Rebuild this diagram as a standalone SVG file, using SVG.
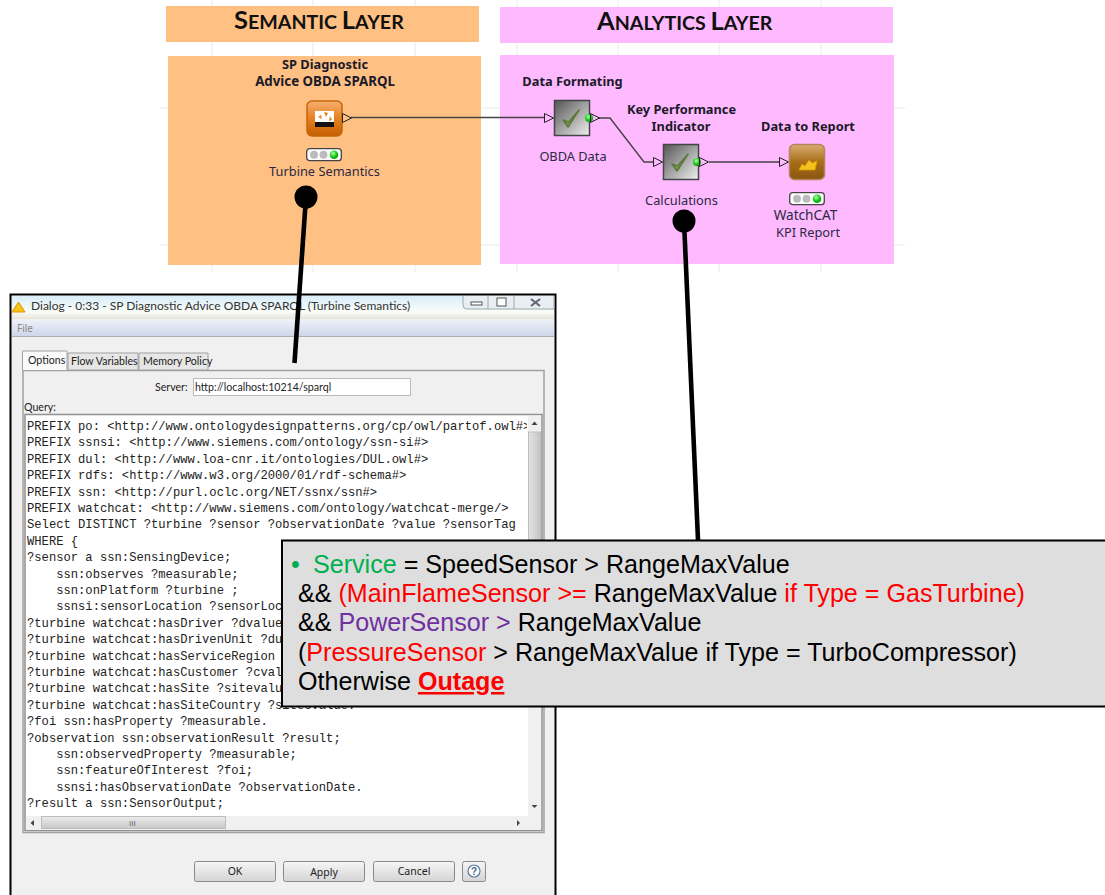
<svg xmlns="http://www.w3.org/2000/svg" width="1105" height="895" viewBox="0 0 1105 895">
<style>
.title{font:bold 19.6px Lato,"Liberation Sans",sans-serif;fill:#111}
.title .cap{font-size:25.5px}
.nb{font:bold 12.8px "Noto Sans","Liberation Sans",sans-serif;fill:#1a1a2a;text-anchor:middle}
.nl{font:12.8px "Noto Sans","Liberation Sans",sans-serif;fill:#2a2a44;text-anchor:middle}
.ui{font:10.6px Lato,"Liberation Sans",sans-serif;fill:#222}
.btn{font:10.5px "Noto Sans","Liberation Sans",sans-serif;fill:#222;text-anchor:middle}
.q{font:12.17px "Liberation Mono","DejaVu Sans Mono",monospace;fill:#222;white-space:pre}
.c{font:25.1px "Liberation Sans",Arial,sans-serif;fill:#000}
.g{fill:#00b050}.r{fill:#f00}.p{fill:#7030a0}
.wire{fill:none;stroke:#444;stroke-width:1.4}
.pin{stroke:#000;stroke-width:4.6;fill:none}
.grid{stroke:#f1f1f1;stroke-width:1.5}
.bt{fill:url(#btn);stroke:#8a8a8a;stroke-width:1}
</style>
<defs>
<linearGradient id="orange" x1="0" y1="0" x2="0" y2="1"><stop offset="0" stop-color="#f6b070"/><stop offset=".5" stop-color="#e58023"/><stop offset="1" stop-color="#c25e00"/></linearGradient>
<linearGradient id="brown" x1="0" y1="0" x2="0" y2="1"><stop offset="0" stop-color="#d8ad70"/><stop offset=".5" stop-color="#a86d18"/><stop offset="1" stop-color="#8a5510"/></linearGradient>
<linearGradient id="grey" x1="0" y1="0" x2="1" y2="1"><stop offset="0" stop-color="#555"/><stop offset="1" stop-color="#f0f0f0"/></linearGradient>
<linearGradient id="tbar" x1="0" y1="0" x2="0" y2="1"><stop offset="0" stop-color="#d9edfb"/><stop offset=".7" stop-color="#fbfdf7"/><stop offset="1" stop-color="#e6e3dc"/></linearGradient>
<linearGradient id="mbar" x1="0" y1="0" x2="0" y2="1"><stop offset="0" stop-color="#eef0f8"/><stop offset="1" stop-color="#cfd6ea"/></linearGradient>
<linearGradient id="btn" x1="0" y1="0" x2="0" y2="1"><stop offset="0" stop-color="#f6f6f6"/><stop offset="1" stop-color="#d4d4d4"/></linearGradient>
<linearGradient id="sb" x1="0" y1="0" x2="1" y2="0"><stop offset="0" stop-color="#e4e4e4"/><stop offset="1" stop-color="#c4c4c4"/></linearGradient>
<linearGradient id="sbh" x1="0" y1="0" x2="0" y2="1"><stop offset="0" stop-color="#ececec"/><stop offset="1" stop-color="#c8c8c8"/></linearGradient>
<radialGradient id="led" cx=".4" cy=".35" r=".7"><stop offset="0" stop-color="#b8ffb0"/><stop offset=".5" stop-color="#22d422"/><stop offset="1" stop-color="#0a8a0a"/></radialGradient>
<clipPath id="qclip"><rect x="26" y="416" width="501" height="400"/></clipPath>
<g id="light"><rect x=".7" y=".7" width="34.6" height="12" rx="3" fill="#fff" stroke="#444" stroke-width="1.3"/><circle cx="8" cy="6.700" r="4" fill="#bbb"/><circle cx="17.500" cy="6.700" r="4" fill="#bbb"/><circle cx="28" cy="6.700" r="4.300" fill="url(#led)"/></g>
<path id="tick" d="M-8 1 L-3 8 L8 -9 L-2.500 3 Z" fill="#7d9a55" stroke="#5d7a3a" stroke-width="1.600" stroke-linejoin="round"/>
<path id="tri" d="M0 -4.500 L9 0 L0 4.500 Z" fill="none" stroke="#222" stroke-width="1"/>
</defs>

<g id="grid" class="grid">
<path d="M212 0V6M313 0V6M415 0V6M517 0V7M618 0V7M719 0V7M821 0V7M212 42V56M313 42V56M415 42V56M517 43V55M618 43V55M719 43V55M821 43V55M212 265V272M415 265V272M313 265V272M517 264V272M618 264V272M719 264V272M821 264V272M481 108H500M894 108H905M481 245H500M894 245H905M160 108H168M160 245H168"/>
</g>

<g id="semantic-layer">
<rect x="166" y="6" width="313" height="36" fill="#ffc083"/>
<rect x="168" y="56" width="313" height="209" fill="#ffc083"/>
<text class="title" x="234" y="29"><tspan class="cap">S</tspan>EMANTIC <tspan class="cap">L</tspan>AYER</text>
</g>
<g id="analytics-layer">
<rect x="500" y="7" width="393" height="36" fill="#ffb9ff"/>
<rect x="500" y="55" width="394" height="209" fill="#ffb9ff"/>
<text class="title" x="597" y="30"><tspan class="cap">A</tspan>NALYTICS <tspan class="cap">L</tspan>AYER</text>
</g>

<g id="connectors">
<path class="wire" d="M351 117.500H544"/>
<path class="wire" d="M599 118H610L644 162H653"/>
<path class="wire" d="M709 162H779"/>
</g>

<g id="node-sparql">
<text class="nb" x="325" y="69">SP Diagnostic</text>
<text class="nb" x="325" y="86" style="font-size:13.3px">Advice OBDA SPARQL</text>
<rect x="307" y="101" width="35" height="35" rx="5" fill="url(#orange)" stroke="#c8660a" stroke-width="1.500"/>
<rect x="315" y="111" width="19" height="16" fill="#fff"/>
<rect x="315" y="122" width="19" height="5" fill="#111"/>
<path d="M318 117l3-2 1 4zM324 112l4 1-2 4zM330 116l2 4-3 1z" fill="#e8801a"/>
<use href="#tri" x="342.500" y="118"/>
<use href="#light" x="306" y="148"/>
<text class="nl" x="324.500" y="176">Turbine Semantics</text>
</g>
<g id="node-formatting">
<text class="nb" x="572.500" y="86">Data Formating</text>
<use href="#tri" x="544.500" y="118"/>
<rect x="554.500" y="100.500" width="35" height="35" fill="url(#grey)" stroke="#444" stroke-width="1.500"/>
<use href="#tick" x="571" y="119"/>
<circle cx="589" cy="118" r="4" fill="url(#led)"/>
<use href="#tri" x="590.500" y="118"/>
<text class="nl" x="573" y="161">OBDA Data</text>
</g>
<g id="node-kpi">
<text class="nb" x="681.500" y="114">Key Performance</text>
<text class="nb" x="681" y="131">Indicator</text>
<use href="#tri" x="653.500" y="162"/>
<rect x="663.500" y="144.500" width="35" height="35" fill="url(#grey)" stroke="#444" stroke-width="1.500"/>
<use href="#tick" x="680" y="163"/>
<circle cx="697" cy="162" r="4" fill="url(#led)"/>
<use href="#tri" x="699.500" y="162"/>
<text class="nl" x="681.500" y="205">Calculations</text>
</g>
<g id="node-report">
<text class="nb" x="808" y="131">Data to Report</text>
<use href="#tri" x="779.500" y="162"/>
<rect x="789.500" y="144.500" width="35" height="35" rx="5" fill="url(#brown)" stroke="#b5825a" stroke-width="1.500"/>
<path d="M799 170l3-6 3 2 4-6 3 3 5-2-2 9z" fill="#f4c21e" stroke="#d99a00" stroke-width=".8"/>
<use href="#light" x="789" y="192"/>
<text class="nl" x="805.500" y="220" style="font-size:13.6px">WatchCAT</text>
<text class="nl" x="808" y="237">KPI Report</text>
</g>

<g id="dialog">
<rect x="10.500" y="294.500" width="545" height="610" fill="#f0f0f0" stroke="#000" stroke-width="2"/>
<rect x="12" y="296" width="542" height="23" fill="url(#tbar)"/>
<path d="M12 312L18.500 302L25 312Z" fill="#f5c518" stroke="#e09000" stroke-width="1"/>
<text x="31" y="310" style="font:12px Lato,'Liberation Sans',sans-serif;fill:#333">Dialog - 0:33 - SP Diagnostic Advice OBDA SPARQL (Turbine Semantics)</text>
<path d="M463 296V305Q463 309 467 309H554V296" fill="#e8eef2" stroke="#9aa" stroke-width="1"/>
<path d="M488 296V309M514 296V309" stroke="#9aa" stroke-width="1"/>
<rect x="471" y="302" width="11" height="3" fill="#fff" stroke="#555" stroke-width="1"/>
<rect x="497" y="298" width="9" height="8" fill="#fff" stroke="#555" stroke-width="1"/>
<path d="M531 299L540 306M540 299L531 306" stroke="#667" stroke-width="2.200"/>
<rect x="12" y="320" width="542" height="16" fill="url(#mbar)"/>
<path d="M12 336.500H554" stroke="#b0b0b0" stroke-width="1"/>
<text x="17" y="332" style="font:10px 'Noto Sans','Liberation Sans',sans-serif;fill:#888">File</text>

<rect x="23" y="370.500" width="521" height="462" fill="#f0f0f0" stroke="#a0a0a0" stroke-width="1.500"/>
<path d="M22.500 370V351H67V370" fill="#fafafa" stroke="#a0a0a0" stroke-width="1"/>
<path d="M68 370V353H138V370Z" fill="#e6e6e6" stroke="#a0a0a0" stroke-width="1"/>
<path d="M139 370V353H208V370Z" fill="#e6e6e6" stroke="#a0a0a0" stroke-width="1"/>
<text class="ui" x="28" y="364">Options</text>
<text class="ui" x="71" y="365">Flow Variables</text>
<text class="ui" x="143" y="365">Memory Policy</text>
<text class="ui" x="155" y="391">Server:</text>
<rect x="193.500" y="378.500" width="217" height="17" fill="#fff" stroke="#bbb" stroke-width="1"/>
<text class="ui" x="195" y="391">http://localhost:10214/sparql</text>
<text class="ui" x="24" y="411">Query:</text>

<rect x="25" y="414.500" width="517" height="416" fill="#fff" stroke="#909090" stroke-width="1.500"/>
<g clip-path="url(#qclip)">
<text class="q" x="27" y="430">PREFIX po: &lt;http://www.ontologydesignpatterns.org/cp/owl/partof.owl#&gt;</text>
<text class="q" x="27" y="446.400">PREFIX ssnsi: &lt;http://www.siemens.com/ontology/ssn-si#&gt;</text>
<text class="q" x="27" y="462.800">PREFIX dul: &lt;http://www.loa-cnr.it/ontologies/DUL.owl#&gt;</text>
<text class="q" x="27" y="479.200">PREFIX rdfs: &lt;http://www.w3.org/2000/01/rdf-schema#&gt;</text>
<text class="q" x="27" y="495.600">PREFIX ssn: &lt;http://purl.oclc.org/NET/ssnx/ssn#&gt;</text>
<text class="q" x="27" y="512">PREFIX watchcat: &lt;http://www.siemens.com/ontology/watchcat-merge/&gt;</text>
<text class="q" x="27" y="528.400">Select DISTINCT ?turbine ?sensor ?observationDate ?value ?sensorTag</text>
<text class="q" x="27" y="544.800">WHERE {</text>
<text class="q" x="27" y="561.200">?sensor a ssn:SensingDevice;</text>
<text class="q" x="27" y="577.600">    ssn:observes ?measurable;</text>
<text class="q" x="27" y="594">    ssn:onPlatform ?turbine ;</text>
<text class="q" x="27" y="610.400">    ssnsi:sensorLocation ?sensorLoc</text>
<text class="q" x="27" y="626.800">?turbine watchcat:hasDriver ?dvalue</text>
<text class="q" x="27" y="643.200">?turbine watchcat:hasDrivenUnit ?du</text>
<text class="q" x="27" y="659.600">?turbine watchcat:hasServiceRegion</text>
<text class="q" x="27" y="676">?turbine watchcat:hasCustomer ?cval</text>
<text class="q" x="27" y="692.400">?turbine watchcat:hasSite ?sitevalu</text>
<text class="q" x="27" y="708.800">?turbine watchcat:hasSiteCountry ?sitecvalue.</text>
<text class="q" x="27" y="725.200">?foi ssn:hasProperty ?measurable.</text>
<text class="q" x="27" y="741.600">?observation ssn:observationResult ?result;</text>
<text class="q" x="27" y="758">    ssn:observedProperty ?measurable;</text>
<text class="q" x="27" y="774.400">    ssn:featureOfInterest ?foi;</text>
<text class="q" x="27" y="790.800">    ssnsi:hasObservationDate ?observationDate.</text>
<text class="q" x="27" y="807.200">?result a ssn:SensorOutput;</text>
</g>

<rect x="528" y="416" width="13" height="414" fill="#f0f0f0"/>
<rect x="528.500" y="432" width="12" height="200" fill="url(#sb)" stroke="#bdbdbd" stroke-width="1"/>
<path d="M531.500 425L534.500 421.500L537.500 425Z" fill="#444"/>
<path d="M531.500 805L534.500 808L537.500 805Z" fill="#444"/>
<rect x="26" y="816" width="502" height="14" fill="#f0f0f0"/>
<rect x="41.500" y="816.500" width="184" height="12" fill="url(#sbh)" stroke="#bdbdbd" stroke-width="1"/>
<path d="M34 820L30.500 823L34 826Z" fill="#444"/>
<path d="M517 820L520 823L517 826Z" fill="#444"/>
<text x="129" y="826" style="font:8px 'Liberation Sans',sans-serif;fill:#666">III</text>

<rect class="bt" x="194.500" y="861.500" width="81" height="20" rx="2"/>
<rect class="bt" x="283.500" y="861.500" width="81" height="20" rx="2"/>
<rect class="bt" x="373.500" y="861.500" width="81" height="20" rx="2"/>
<rect class="bt" x="462.500" y="861.500" width="23" height="20" rx="2"/>
<text class="btn" x="235" y="875">OK</text>
<text class="btn" x="324" y="876">Apply</text>
<text class="btn" x="414" y="875">Cancel</text>
<circle cx="474" cy="871" r="6" fill="#fff" stroke="#5a7a9a" stroke-width="1.200"/>
<text x="474" y="875" text-anchor="middle" style="font:bold 10px 'Liberation Sans',sans-serif;fill:#4a6a8a">?</text>
</g>

<g id="pins">
<circle cx="306" cy="197" r="11.500" fill="#000"/>
<path class="pin" d="M306 197L294.500 363"/>
<circle cx="684" cy="221" r="11.500" fill="#000"/>
<path class="pin" d="M684 221L698 540"/>
</g>

<g id="callout">
<rect x="282" y="540.500" width="825" height="166" fill="#dedede" stroke="#000" stroke-width="2"/>
<text class="c" x="291" y="573"><tspan class="g">•</tspan><tspan class="g" x="313">Service</tspan> = SpeedSensor &gt; RangeMaxValue</text>
<text class="c" x="298" y="602">&amp;&amp; <tspan class="r">(MainFlameSensor &gt;=</tspan> RangeMaxValue <tspan class="r">if Type = GasTurbine)</tspan></text>
<text class="c" x="298" y="631">&amp;&amp; <tspan class="p">PowerSensor &gt;</tspan> RangeMaxValue</text>
<text class="c" x="298" y="661">(<tspan class="r">PressureSensor</tspan> &gt; RangeMaxValue if Type = TurboCompressor)</text>
<text class="c" x="298" y="690">Otherwise <tspan class="r" font-weight="bold" text-decoration="underline">Outage</tspan></text>
</g>
</svg>
